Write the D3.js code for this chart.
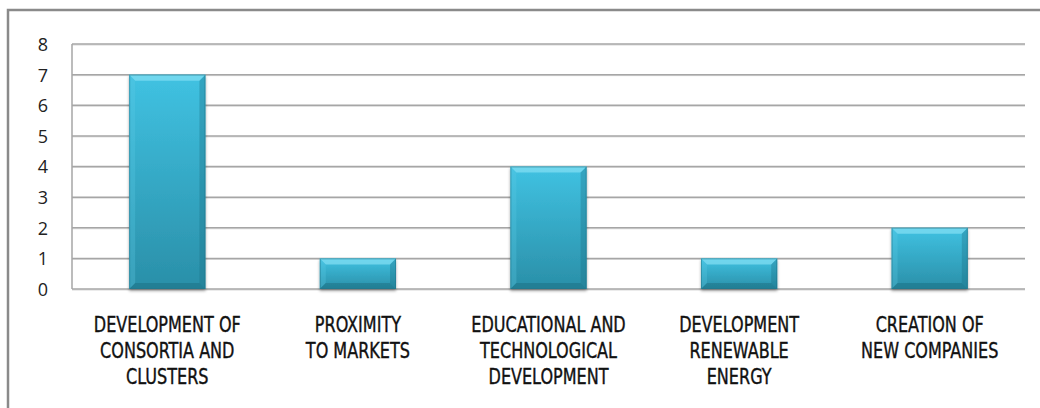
<!DOCTYPE html>
<html><head><meta charset="utf-8">
<script src="https://cdn.jsdelivr.net/npm/d3@7"></script>
<style>html,body{margin:0;padding:0;background:#fff;}svg{display:block;}</style>
</head><body>
<svg id="c" width="1040" height="408"></svg>
<script>
const categories = [
  ["DEVELOPMENT OF", "CONSORTIA AND", "CLUSTERS"],
  ["PROXIMITY", "TO MARKETS"],
  ["EDUCATIONAL AND", "TECHNOLOGICAL", "DEVELOPMENT"],
  ["DEVELOPMENT", "RENEWABLE", "ENERGY"],
  ["CREATION OF", "NEW COMPANIES"]
];
const values = [7, 1, 4, 1, 2];
const yTicks = [0, 1, 2, 3, 4, 5, 6, 7, 8];

const svg = d3.select("#c");
const L = 72, R = 1025, T = 44, B = 289;

const defs = svg.append("defs");
const g1 = defs.append("linearGradient").attr("id","barG").attr("x1",0).attr("y1",0).attr("x2",0).attr("y2",1);
g1.append("stop").attr("offset","0%").attr("stop-color","#40c2e2");
g1.append("stop").attr("offset","100%").attr("stop-color","#2a8fa8");
const f = defs.append("filter").attr("id","sh").attr("x","-20%").attr("y","-20%").attr("width","140%").attr("height","140%");
f.append("feGaussianBlur").attr("in","SourceAlpha").attr("stdDeviation",1.5).attr("result","b");
f.append("feOffset").attr("in","b").attr("dx",0).attr("dy",2).attr("result","o");
f.append("feComponentTransfer").attr("in","o").attr("result","o2").append("feFuncA").attr("type","linear").attr("slope",0.35);
const fm = f.append("feMerge"); fm.append("feMergeNode").attr("in","o2"); fm.append("feMergeNode").attr("in","SourceGraphic");

// outer border
svg.append("path").attr("d","M8,408 L8,10 L1040,10").attr("fill","none").attr("stroke","#8a8a8a").attr("stroke-width",2.5);

const x = d3.scaleBand().domain(d3.range(values.length)).range([L, R]).paddingInner(0.6).paddingOuter(0.3);
const y = d3.scaleLinear().domain([0, 8]).range([B, T]);

// grid
const grid = svg.append("g");
yTicks.forEach(t => {
  grid.append("line").attr("x1",L).attr("x2",R).attr("y1",y(t)+1).attr("y2",y(t)+1).attr("stroke","#d8d8d8").attr("stroke-width",1);
  grid.append("line").attr("x1",L).attr("x2",R).attr("y1",y(t)).attr("y2",y(t)).attr("stroke","#a6a6a6").attr("stroke-width",1.5);
});
grid.append("line").attr("x1",L).attr("x2",L).attr("y1",T).attr("y2",B).attr("stroke","#a6a6a6").attr("stroke-width",1.5);

// y axis labels
const yAxis = d3.axisLeft(y).tickValues(yTicks).tickSize(0).tickPadding(22).tickFormat(d3.format("d"));
const ya = svg.append("g").attr("transform",`translate(${L},0)`).call(yAxis);
ya.select(".domain").remove();
ya.selectAll("text").attr("font-family","'Open Sans', 'Liberation Sans', sans-serif").attr("font-size",18).attr("fill","#222").attr("text-anchor","middle").attr("dx",-7).attr("dy","0.36em");

// bars
const bw = x.bandwidth(), bv = 6;
const bars = svg.append("g").selectAll("g").data(values).join("g").attr("filter","url(#sh)");
bars.each(function(v, i) {
  const g = d3.select(this);
  const x0 = x(i), x1 = x0 + bw, y0 = y(v), y1 = y(0);
  g.append("rect").attr("x",x0).attr("y",y0).attr("width",bw).attr("height",y1-y0).attr("fill","url(#barG)");
  g.append("path").attr("d",`M${x0},${y0} L${x1},${y0} L${x1-bv},${y0+bv} L${x0+bv},${y0+bv} Z`).attr("fill","#86e0f4").attr("opacity",0.7);
  g.append("path").attr("d",`M${x0},${y0} L${x0+bv},${y0+bv} L${x0+bv},${y1-bv} L${x0},${y1} Z`).attr("fill","#5ccbe6").attr("opacity",0.3);
  g.append("path").attr("d",`M${x1},${y0} L${x1-bv},${y0+bv} L${x1-bv},${y1-bv} L${x1},${y1} Z`).attr("fill","#1c6f83").attr("opacity",0.35);
  g.append("path").attr("d",`M${x0},${y1} L${x0+bv},${y1-bv} L${x1-bv},${y1-bv} L${x1},${y1} Z`).attr("fill","#1b6a7c").attr("opacity",0.45);
  g.append("rect").attr("x",x0+0.5).attr("y",y0+0.5).attr("width",bw-1).attr("height",y1-y0-1).attr("fill","none").attr("stroke","#1f7387").attr("stroke-width",1).attr("opacity",0.5);
});

// x labels
const xl = svg.append("g").selectAll("text").data(categories).join("text")
  .attr("transform",(d,i)=>`translate(${x(i)+bw/2},332) scale(0.87,1)`)
  .attr("text-anchor","middle")
  .attr("font-family","'Liberation Sans Narrow', 'DejaVu Sans Condensed', sans-serif")
  .attr("font-stretch","condensed")
  .attr("font-size",20.5).attr("fill","#111")
  .attr("stroke","#111").attr("stroke-width",0.35);
xl.each(function(d){
  d3.select(this).selectAll("tspan").data(d).join("tspan").attr("x",0).attr("dy",(t,j)=>j===0?0:26).text(t=>t);
});
</script>
</body></html>
